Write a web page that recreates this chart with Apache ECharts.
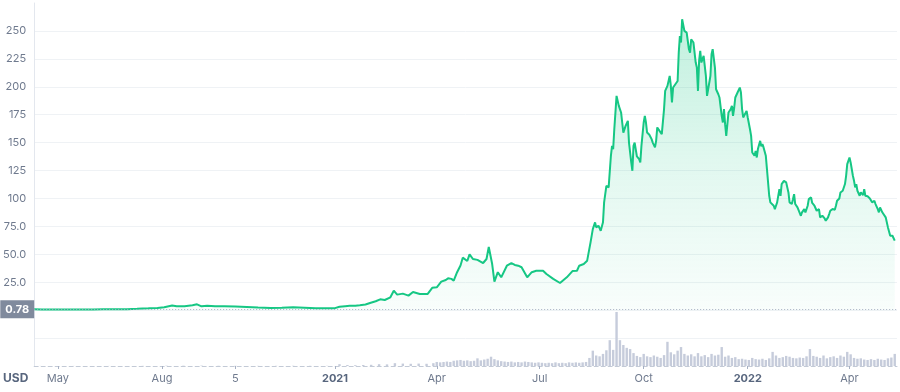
<!DOCTYPE html>
<html>
<head>
<meta charset="utf-8">
<script src="https://cdn.jsdelivr.net/npm/echarts@6.0.0/dist/echarts.min.js"></script>
<style>
html,body{margin:0;padding:0;background:#fff;}
#chart{width:900px;height:392px;}
</style>
</head>
<body>
<div id="chart"></div>
<script>
// ---------- DATA ----------
const startPrice = 0.78;
const currencyLabel = 'USD';
const xStart = '2020-04-10';
const xEnd = '2022-05-13';

const xTickDates = ['2020-05-01','2020-08-01','2020-10-05','2021-01-01','2021-04-01','2021-07-01','2021-10-01','2022-01-01','2022-04-01'];
const xTickLabels = ['May','Aug','5','2021','Apr','Jul','Oct','2022','Apr'];

const priceSeries = [
['2020-04-10',0.78],['2020-04-17',0.66],['2020-04-24',0.62],['2020-05-01',0.60],['2020-05-10',0.55],['2020-05-20',0.52],
['2020-06-01',0.60],['2020-06-10',0.70],['2020-06-20',0.72],['2020-07-01',0.90],['2020-07-10',1.20],['2020-07-20',1.60],
['2020-07-28',2.0],['2020-08-03',2.6],['2020-08-10',4.2],['2020-08-14',3.5],['2020-08-21',3.6],['2020-08-28',4.4],
['2020-09-01',5.2],['2020-09-05',3.4],['2020-09-10',4.0],['2020-09-17',3.5],['2020-09-25',3.6],['2020-10-05',3.2],
['2020-10-15',2.8],['2020-10-25',2.3],['2020-11-05',2.0],['2020-11-15',2.2],['2020-11-25',2.6],['2020-12-05',2.2],
['2020-12-15',1.8],['2020-12-25',1.6],
['2021-01-01',1.8],['2021-01-05',3.1],['2021-01-10',3.6],['2021-01-14',4.0],['2021-01-19',4.0],['2021-01-23',4.4],
['2021-01-28',5.0],['2021-02-01',6.4],['2021-02-06',8.0],['2021-02-10',9.7],['2021-02-14',9.1],['2021-02-19',11.5],
['2021-02-22',17.4],['2021-02-25',13.9],['2021-03-02',14.8],['2021-03-07',13.0],['2021-03-11',16.3],['2021-03-17',14.5],
['2021-03-24',14.5],['2021-03-28',20.0],['2021-04-01',20.5],['2021-04-05',25.5],['2021-04-09',27.0],['2021-04-11',28.5],
['2021-04-14',28.0],['2021-04-16',26.4],['2021-04-19',34.0],['2021-04-22',40.0],['2021-04-24',47.0],['2021-04-28',44.0],
['2021-04-30',50.0],['2021-05-03',45.8],['2021-05-07',45.0],['2021-05-12',42.2],['2021-05-15',45.8],['2021-05-17',56.5],
['2021-05-20',41.3],['2021-05-22',25.5],['2021-05-25',34.0],['2021-05-28',29.4],['2021-06-02',39.8],['2021-06-06',42.2],
['2021-06-09',40.5],['2021-06-12',39.8],['2021-06-15',38.4],['2021-06-20',29.4],['2021-06-24',34.0],['2021-06-28',35.3],
['2021-07-04',35.3],['2021-07-07',32.4],['2021-07-13',28.0],['2021-07-19',24.3],['2021-07-25',29.4],['2021-07-30',35.0],
['2021-08-03',35.3],['2021-08-05',39.8],['2021-08-09',41.3],['2021-08-12',44.3],['2021-08-13',45.8],['2021-08-15',60.7],
['2021-08-17',72.6],['2021-08-19',78.6],['2021-08-20',74.1],['2021-08-22',75.6],['2021-08-24',71.1],['2021-08-26',78.6],
['2021-08-27',96.5],['2021-08-28',98.0],['2021-08-29',111.3],['2021-08-31',109.9],['2021-09-02',138.2],['2021-09-03',147.1],
['2021-09-04',144.2],['2021-09-05',162.0],['2021-09-07',191.8],['2021-09-09',182.9],['2021-09-11',177.0],['2021-09-12',168.0],
['2021-09-13',159.0],['2021-09-15',165.0],['2021-09-17',169.5],['2021-09-18',150.0],['2021-09-20',132.3],['2021-09-21',124.8],
['2021-09-22',147.1],['2021-09-23',150.0],['2021-09-25',137.6],['2021-09-27',135.2],['2021-09-28',132.3],['2021-09-29',147.1],
['2021-10-01',168.0],['2021-10-02',173.9],['2021-10-03',168.0],['2021-10-04',159.0],['2021-10-06',157.0],['2021-10-08',153.1],
['2021-10-09',150.0],['2021-10-11',145.7],['2021-10-12',151.6],['2021-10-13',163.6],['2021-10-15',160.5],['2021-10-17',157.6],
['2021-10-18',159.0],['2021-10-19',180.0],['2021-10-20',196.3],['2021-10-22',200.8],['2021-10-24',209.7],['2021-10-25',200.8],
['2021-10-26',185.9],['2021-10-27',199.3],['2021-10-29',202.3],['2021-10-31',205.2],['2021-11-01',230.6],['2021-11-02',245.5],
['2021-11-03',239.6],['2021-11-04',260.4],['2021-11-06',250.0],['2021-11-08',248.5],['2021-11-10',233.6],['2021-11-11',230.6],
['2021-11-12',242.5],['2021-11-14',239.6],['2021-11-16',221.7],['2021-11-17',217.2],['2021-11-18',196.3],['2021-11-19',223.1],
['2021-11-20',232.1],['2021-11-21',221.7],['2021-11-23',227.6],['2021-11-25',209.7],['2021-11-26',191.8],['2021-11-27',197.8],
['2021-11-29',209.7],['2021-11-30',229.1],['2021-12-01',233.6],['2021-12-03',217.2],['2021-12-04',197.8],['2021-12-06',193.3],
['2021-12-07',190.4],['2021-12-09',174.0],['2021-12-10',168.0],['2021-12-11',180.0],['2021-12-12',166.5],['2021-12-13',156.0],
['2021-12-14',154.6],['2021-12-15',177.0],['2021-12-17',180.0],['2021-12-18',182.9],['2021-12-19',174.0],['2021-12-20',181.0],
['2021-12-21',190.4],['2021-12-23',194.9],['2021-12-25',199.3],['2021-12-26',194.9],['2021-12-27',180.0],['2021-12-28',172.5],
['2021-12-29',171.0],['2021-12-31',178.4],['2022-01-01',172.5],['2022-01-03',162.0],['2022-01-04',156.0],['2022-01-05',141.2],
['2022-01-07',138.2],['2022-01-08',142.6],['2022-01-09',136.7],['2022-01-10',144.2],['2022-01-12',151.6],['2022-01-13',146.6],
['2022-01-14',148.6],['2022-01-15',145.7],['2022-01-17',138.2],['2022-01-18',126.3],['2022-01-20',102.4],['2022-01-21',96.5],
['2022-01-22',95.0],['2022-01-24',93.5],['2022-01-25',90.5],['2022-01-26',93.5],['2022-01-27',96.5],['2022-01-29',108.4],
['2022-01-30',102.4],['2022-01-31',112.9],['2022-02-02',115.8],['2022-02-03',117.3],['2022-02-04',114.4],['2022-02-06',105.4],
['2022-02-07',96.5],['2022-02-09',95.0],['2022-02-10',99.4],['2022-02-11',103.9],['2022-02-12',95.0],['2022-02-14',92.0],
['2022-02-15',90.5],['2022-02-17',84.5],['2022-02-18',87.6],['2022-02-19',86.0],['2022-02-20',90.5],['2022-02-21',87.6],
['2022-02-23',93.5],['2022-02-24',99.4],['2022-02-26',101.0],['2022-02-27',96.0],['2022-03-01',93.5],['2022-03-03',89.0],
['2022-03-05',90.5],['2022-03-06',83.1],['2022-03-08',84.5],['2022-03-10',82.2],['2022-03-11',80.0],['2022-03-13',83.1],
['2022-03-14',86.0],['2022-03-15',89.0],['2022-03-17',90.5],['2022-03-19',89.9],['2022-03-20',93.5],['2022-03-21',98.0],
['2022-03-23',100.0],['2022-03-24',105.4],['2022-03-26',106.9],['2022-03-28',112.9],['2022-03-29',120.3],['2022-03-30',130.7],
['2022-03-31',133.7],['2022-04-01',136.7],['2022-04-02',132.3],['2022-04-04',120.3],['2022-04-05',115.8],['2022-04-06',109.9],
['2022-04-07',112.9],['2022-04-08',106.9],['2022-04-10',102.4],['2022-04-11',105.4],['2022-04-13',103.0],['2022-04-14',108.4],
['2022-04-15',102.4],['2022-04-17',101.9],['2022-04-19',100.0],['2022-04-20',99.4],['2022-04-21',96.5],['2022-04-23',98.0],
['2022-04-24',95.0],['2022-04-26',90.5],['2022-04-27',87.6],['2022-04-28',92.0],['2022-04-30',87.6],['2022-05-01',89.0],
['2022-05-03',83.1],['2022-05-04',81.6],['2022-05-05',74.1],['2022-05-07',66.6],['2022-05-08',65.2],['2022-05-09',66.6],
['2022-05-11',62.2]
];

// traded volume, billions USD
const volumeSeries = [
['2020-04-15',0.02],['2020-05-15',0.02],['2020-06-15',0.02],['2020-07-15',0.04],['2020-08-05',0.08],['2020-08-20',0.08],
['2020-09-05',0.10],['2020-09-20',0.06],['2020-10-05',0.05],['2020-10-25',0.04],['2020-11-10',0.05],['2020-11-25',0.06],
['2020-12-10',0.05],['2020-12-25',0.05],['2021-01-05',0.45],['2021-01-12',0.25],['2021-01-19',0.20],['2021-01-26',0.25],
['2021-02-02',0.30],['2021-02-09',0.45],['2021-02-16',0.40],['2021-02-23',0.70],['2021-03-02',0.60],['2021-03-09',0.55],
['2021-03-16',0.60],['2021-03-23',0.55],['2021-03-29',0.70],
['2021-04-01',1.0],['2021-04-04',0.9],['2021-04-07',1.0],['2021-04-10',1.1],['2021-04-13',1.0],['2021-04-16',1.3],
['2021-04-19',1.4],['2021-04-22',1.5],['2021-04-25',1.3],['2021-04-28',1.4],['2021-05-01',1.2],['2021-05-04',1.3],
['2021-05-07',1.9],['2021-05-10',1.4],['2021-05-13',1.6],['2021-05-16',1.8],['2021-05-19',2.3],['2021-05-22',1.7],
['2021-05-25',1.4],['2021-05-28',1.2],['2021-05-31',1.1],['2021-06-03',1.0],['2021-06-06',1.1],['2021-06-09',0.9],
['2021-06-12',1.0],['2021-06-15',0.9],['2021-06-18',1.1],['2021-06-21',1.0],['2021-06-24',0.9],['2021-06-27',0.8],
['2021-06-30',0.9],['2021-07-03',0.8],['2021-07-06',0.7],['2021-07-09',0.8],['2021-07-12',0.7],['2021-07-15',0.9],
['2021-07-18',0.7],['2021-07-21',0.8],['2021-07-24',0.7],['2021-07-27',0.9],['2021-07-30',0.8],['2021-08-02',0.9],
['2021-08-05',0.8],['2021-08-08',0.9],['2021-08-11',1.0],['2021-08-14',2.0],['2021-08-17',3.8],['2021-08-20',2.6],
['2021-08-23',2.4],['2021-08-26',3.0],['2021-08-29',3.9],['2021-09-01',6.4],['2021-09-04',4.0],['2021-09-07',13.4],
['2021-09-10',6.4],['2021-09-13',5.2],['2021-09-16',4.5],['2021-09-19',4.2],['2021-09-22',3.2],['2021-09-25',2.5],
['2021-09-28',2.2],['2021-10-01',3.0],['2021-10-04',2.4],['2021-10-07',2.2],['2021-10-10',2.6],['2021-10-13',2.3],
['2021-10-16',2.0],['2021-10-19',2.7],['2021-10-22',6.0],['2021-10-25',3.4],['2021-10-28',2.9],['2021-10-31',3.8],
['2021-11-03',4.7],['2021-11-06',3.0],['2021-11-09',2.6],['2021-11-12',2.9],['2021-11-15',2.4],['2021-11-18',3.2],
['2021-11-21',2.4],['2021-11-24',2.7],['2021-11-27',2.2],['2021-11-30',3.0],['2021-12-03',2.6],['2021-12-06',2.8],
['2021-12-09',4.7],['2021-12-12',2.3],['2021-12-15',2.6],['2021-12-18',2.0],['2021-12-21',2.2],['2021-12-24',1.7],
['2021-12-27',1.8],['2021-12-30',1.6],['2022-01-02',1.5],['2022-01-05',2.0],['2022-01-08',1.7],['2022-01-11',1.6],
['2022-01-14',1.8],['2022-01-17',1.5],['2022-01-20',1.9],['2022-01-23',3.5],['2022-01-26',2.6],['2022-01-29',2.0],
['2022-02-01',2.2],['2022-02-04',2.5],['2022-02-07',2.3],['2022-02-10',2.0],['2022-02-13',1.9],['2022-02-16',2.1],
['2022-02-19',2.0],['2022-02-22',2.4],['2022-02-25',4.2],['2022-02-28',2.5],['2022-03-03',2.3],['2022-03-06',2.0],
['2022-03-09',2.6],['2022-03-12',1.9],['2022-03-15',2.2],['2022-03-18',2.4],['2022-03-21',2.0],['2022-03-24',2.6],
['2022-03-27',2.3],['2022-03-30',3.5],['2022-04-02',2.9],['2022-04-05',2.0],['2022-04-08',1.8],['2022-04-11',1.9],
['2022-04-14',1.6],['2022-04-17',1.5],['2022-04-20',1.7],['2022-04-23',1.5],['2022-04-26',1.8],['2022-04-29',1.6],
['2022-05-02',1.5],['2022-05-05',1.9],['2022-05-08',2.1],['2022-05-11',3.0]
];

// ---------- CHART ----------
const toMs = d => echarts.time.parse(d).getTime();
const tickTimes = xTickDates.map(toMs);
const priceData = priceSeries.map(p => [toMs(p[0]), p[1]]);
const volumeData = volumeSeries.map(p => [toMs(p[0]), p[1]]);

function tickLabel(v) {
  let best = 0, bd = Infinity;
  tickTimes.forEach((t, i) => { const dd = Math.abs(t - v); if (dd < bd) { bd = dd; best = i; } });
  const lab = xTickLabels[best];
  return /^\d{4}$/.test(lab) ? '{y|' + lab + '}' : lab;
}

const FONT = 'Inter, "Noto Sans", sans-serif';
const chart = echarts.init(document.getElementById('chart'), null, {renderer: 'canvas'});
chart.setOption({
  animation: false,
  textStyle: {fontFamily: FONT},
  title: {
    text: currencyLabel, left: 3, top: 372, padding: 0,
    textStyle: {fontSize: 12, fontWeight: 'bold', color: '#58667e', fontFamily: FONT}
  },
  grid: {left: 34, right: 3, top: 3, bottom: 26},
  xAxis: {
    type: 'value',
    min: toMs(xStart),
    max: toMs(xEnd),
    axisLine: {show: true, onZero: false, lineStyle: {color: '#c3cad6', type: [4, 3], width: 1}},
    axisTick: {show: true, customValues: tickTimes, length: 3, lineStyle: {color: '#a6b0c3'}},
    axisLabel: {
      customValues: tickTimes, formatter: tickLabel, color: '#6f7a8e', fontSize: 11, margin: 7,
      rich: {y: {fontWeight: 'bold', color: '#58667e', fontSize: 11, fontFamily: FONT}}
    },
    splitLine: {show: false}
  },
  yAxis: [{
    type: 'value', min: -50, max: 275, interval: 25,
    axisLine: {show: true, lineStyle: {color: '#e3e7ee'}},
    axisTick: {show: false},
    axisLabel: {
      color: '#6f7a8e', fontSize: 11, margin: 8,
      formatter: v => (v <= 0 || v > 250) ? '' : (v < 100 ? v.toFixed(1) : String(v))
    },
    splitLine: {show: true, showMinLine: false, showMaxLine: false, lineStyle: {color: '#eff2f5', width: 1}}
  }, {
    type: 'value', min: 0, max: 90, show: false, splitLine: {show: false}
  }],
  series: [{
    name: 'Volume', type: 'bar', xAxisIndex: 0, yAxisIndex: 1,
    data: volumeData, barWidth: 2.4,
    itemStyle: {color: '#c6ccdb'},
    silent: true, z: 1
  }, {
    name: 'Price', type: 'line', yAxisIndex: 0,
    data: priceData, showSymbol: false, symbol: 'none',
    lineStyle: {color: '#16c784', width: 2},
    itemStyle: {color: '#16c784'},
    areaStyle: {
      color: {type: 'linear', x: 0, y: 0, x2: 0, y2: 1, colorStops: [
        {offset: 0, color: 'rgba(22,199,132,0.38)'},
        {offset: 0.5, color: 'rgba(22,199,132,0.18)'},
        {offset: 1, color: 'rgba(22,199,132,0.04)'}
      ]}
    },
    z: 3,
    markLine: {
      silent: true, symbol: 'none',
      data: [{yAxis: startPrice}],
      lineStyle: {color: '#a6b0c3', type: [1, 2], width: 1},
      label: {
        position: 'start', distance: 0, formatter: String(startPrice),
        backgroundColor: '#808a9d', color: '#ffffff', fontWeight: 'bold', fontSize: 11,
        padding: [4, 5, 3, 5]
      }
    }
  }]
});
</script>
</body>
</html>
